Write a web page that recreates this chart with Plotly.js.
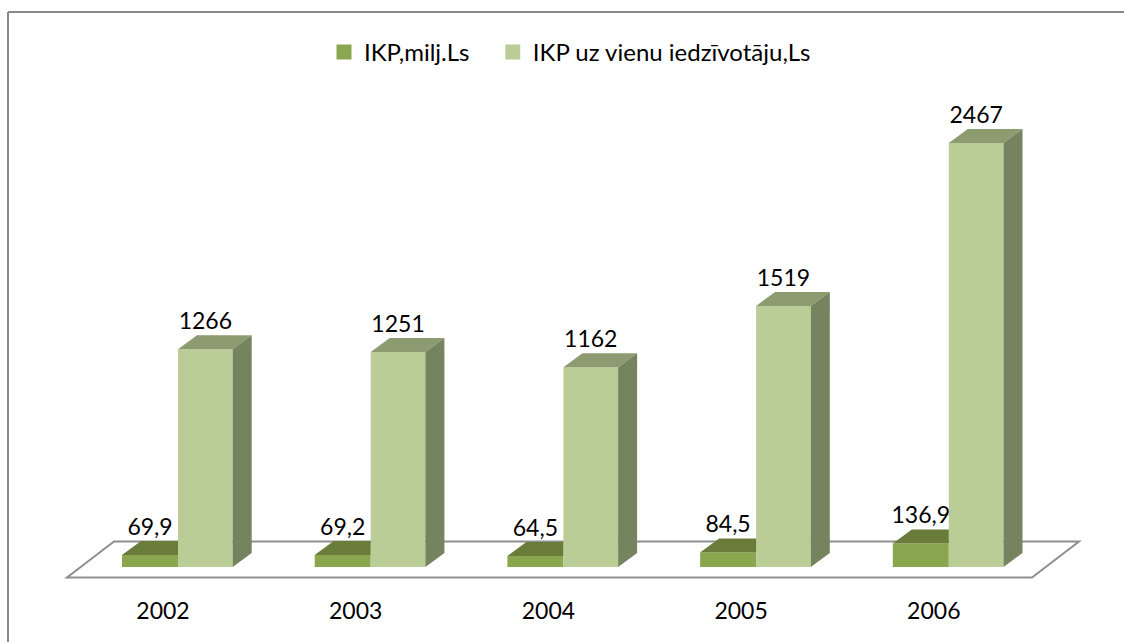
<!DOCTYPE html>
<html><head><meta charset="utf-8">
<script src="https://cdn.plot.ly/plotly-3.0.1.min.js"></script>
<style>html,body{margin:0;padding:0;background:#fff;overflow:hidden}</style>
</head><body><div id="chart" style="width:1124px;height:642px"></div>
<script>
const years = ['2002','2003','2004','2005','2006'];
const ikpMilj = [69.9,69.2,64.5,84.5,136.9];
const ikpPerCapita = [1266,1251,1162,1519,2467];
const nameMilj = 'IKP,milj.Ls';
const namePerCapita = 'IKP uz vienu iedzīvotāju,Ls';

const W=1124,H=642,bottom=47;
const pxX=192.7, pxY=0.1719;          // pixels per category / per value
const dx=19/pxX, dy=14/pxY;           // 3-D depth
const wD=56/pxX, wL=54.7/pxX;
const labelUp=26/pxY;
const idx=years.map((_,i)=>i);
const font='Lato, Carlito, sans-serif';
const col={dF:'#8AA64E',dT:'#6A7C3A',lF:'#BBCD97',lT:'#8C9B70',lS:'#75835F',floor:'#8F8F8F',border:'#8A8A8A'};

function poly(xs,ys,c){return {type:'scatter',mode:'lines',x:xs.concat(xs[0]),y:ys.concat(ys[0]),fill:'toself',fillcolor:c,line:{width:0,color:c},showlegend:false,hoverinfo:'skip'};}
const comma=v=>String(v).replace('.',',');

const traces=[
 {type:'bar',name:nameMilj,showlegend:false,x:idx.map(i=>i-wD/2),y:ikpMilj,width:wD,marker:{color:col.dF,line:{width:0}},hoverinfo:'skip'},
 {type:'bar',name:namePerCapita,showlegend:false,x:idx.map(i=>i+wL/2),y:ikpPerCapita,width:wL,marker:{color:col.lF,line:{width:0}},hoverinfo:'skip'},
 // legend keys only: larger swatches than a plain bar key gives
 {type:'bar',name:nameMilj+'\u00a0\u00a0\u00a0',x:[null],y:[null],marker:{color:col.dF,line:{width:3,color:col.dF}},hoverinfo:'skip'},
 {type:'bar',name:namePerCapita,x:[null],y:[null],marker:{color:col.lF,line:{width:3,color:col.lF}},hoverinfo:'skip'}
];
idx.forEach(i=>{
  const a=i-wD, b=i, v=ikpMilj[i];
  traces.push(poly([a,a+dx,b,b],[v,v+dy,v+dy,v],col.dT));
  const c=i, d=i+wL, u=ikpPerCapita[i];
  traces.push(poly([c,c+dx,d+dx,d],[u,u+dy,u+dy,u],col.lT));
  traces.push(poly([d,d+dx,d+dx,d],[0,dy,u+dy,u],col.lS));
});
traces.push({type:'scatter',mode:'text',x:idx.map(i=>i-wD/2),y:ikpMilj.map(v=>v+labelUp),text:ikpMilj.map(comma),textposition:'middle center',textfont:{family:font,size:23,color:'#000'},showlegend:false,hoverinfo:'skip'});
traces.push({type:'scatter',mode:'text',x:idx.map(i=>i+wL/2),y:ikpPerCapita.map(v=>v+labelUp),text:ikpPerCapita.map(comma),textposition:'middle center',textfont:{family:font,size:23,color:'#000'},showlegend:false,hoverinfo:'skip'});

const fl=(p)=>(p-178)/pxX, fv=(p)=>(567-p)/pxY;
const floorPath=`M${fl(67)},${fv(577.5)} L${fl(1032)},${fv(577.5)} L${fl(1079)},${fv(541.5)} L${fl(114)},${fv(541.5)} Z`;

const layout={
 width:W,height:H,margin:{l:0,r:0,t:0,b:bottom,pad:0,autoexpand:false},
 paper_bgcolor:'#fff',plot_bgcolor:'rgba(0,0,0,0)',barmode:'overlay',
 xaxis:{range:[fl(0),fl(W)],tickmode:'array',tickvals:idx.map(i=>i-15/pxX),ticktext:years,ticks:'',showgrid:false,zeroline:false,showline:false,tickfont:{family:font,size:23,color:'#000'},fixedrange:true,automargin:false},
 yaxis:{range:[fv(H-bottom),fv(0)],visible:false,showgrid:false,zeroline:false,fixedrange:true},
 legend:{orientation:'h',x:324/W,y:1-30/(H-bottom),xanchor:'left',yanchor:'top',font:{family:font,size:24,color:'#000'},bgcolor:'rgba(0,0,0,0)',itemclick:false,itemdoubleclick:false},
 showlegend:true,
 shapes:[
  {type:'path',path:floorPath,xref:'x',yref:'y',layer:'below',line:{color:col.floor,width:2},fillcolor:'#fff'},
  {type:'line',xref:'paper',yref:'paper',x0:8/W,x1:8/W,y0:-bottom/(H-bottom),y1:1-12/(H-bottom),line:{color:col.border,width:2}},
  {type:'line',xref:'paper',yref:'paper',x0:8/W,x1:1,y0:1-12/(H-bottom),y1:1-12/(H-bottom),line:{color:col.border,width:2}}
 ]
};
Plotly.newPlot('chart',traces,layout,{displayModeBar:false,staticPlot:true});
</script></body></html>
